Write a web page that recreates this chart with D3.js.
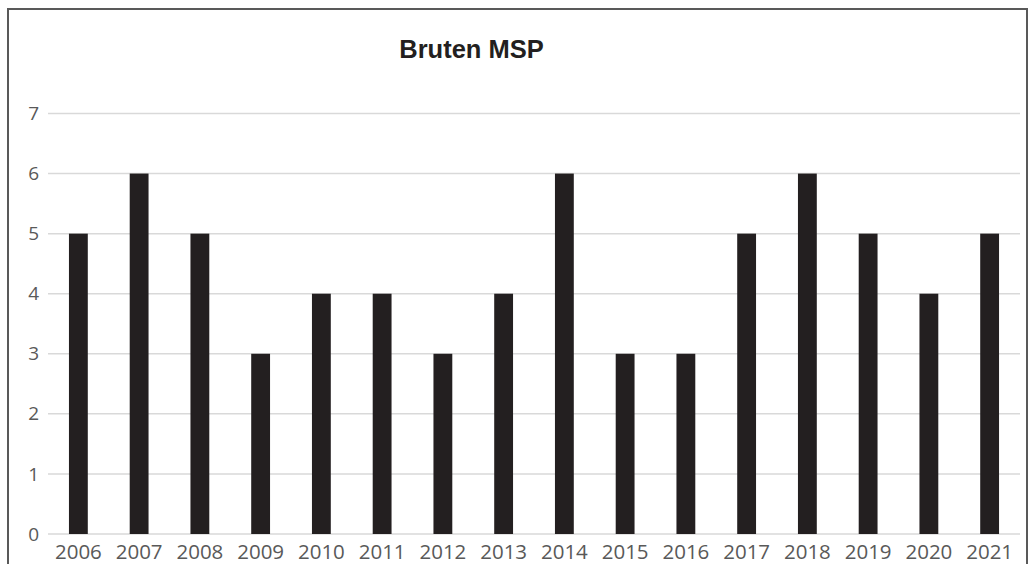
<!DOCTYPE html>
<html>
<head>
<meta charset="utf-8">
<script src="https://cdn.jsdelivr.net/npm/d3@7"></script>
<style>
html,body{margin:0;padding:0;background:#fff;}
svg{display:block;}
</style>
</head>
<body>
<svg id="chart" width="1029" height="564"></svg>
<script>
const title = "Bruten MSP";
const years = ["2006","2007","2008","2009","2010","2011","2012","2013","2014","2015","2016","2017","2018","2019","2020","2021"];
const values = [5,6,5,3,4,4,3,4,6,3,3,5,6,5,4,5];
const yTicks = [0,1,2,3,4,5,6,7];

const svg = d3.select("#chart");
const W = 1029, H = 564;

// outer border (bottom cut off)
svg.append("path")
  .attr("d", `M8,${H+5} L8,9 L1027,9 L1027,${H+5}`)
  .attr("fill","none").attr("stroke","#595959").attr("stroke-width",2);

const x = d3.scaleBand().domain(years).range([48, 1020]).paddingInner(0.69).paddingOuter(0.345);
const y = d3.scaleLinear().domain([0,7]).range([534, 113.5]);

// gridlines
svg.append("g").selectAll("line").data(yTicks).join("line")
  .attr("x1",48).attr("x2",1020)
  .attr("y1",d=>y(d)).attr("y2",d=>y(d))
  .attr("stroke","#d9d9d9").attr("stroke-width",1.5);

// y labels
const yAxis = d3.axisLeft(y).tickValues(yTicks).tickFormat(d3.format("d")).tickSize(0).tickPadding(0);
const gy = svg.append("g").attr("transform","translate(39,0)").call(yAxis);
gy.select(".domain").remove();
gy.selectAll("text").attr("font-family","'Open Sans', sans-serif").attr("font-size",19).attr("fill","#595959");

// bars
svg.append("g").selectAll("rect").data(values).join("rect")
  .attr("x",(d,i)=>x(years[i]))
  .attr("width",x.bandwidth())
  .attr("y",d=>y(d))
  .attr("height",d=>y(0)-y(d))
  .attr("fill","#231f20");

// x labels
const xAxis = d3.axisBottom(x).tickSize(0).tickPadding(0);
const gx = svg.append("g").attr("transform","translate(0,540)").call(xAxis);
gx.select(".domain").remove();
gx.selectAll("text").attr("font-family","'Open Sans', sans-serif").attr("font-size",20.5).attr("fill","#595959").attr("dy","0.95em");

// title
svg.append("text").attr("x",471.5).attr("y",58).attr("text-anchor","middle")
  .attr("font-family","'Liberation Sans', Arial, sans-serif").attr("font-weight","bold")
  .attr("font-size",25.5).attr("fill","#231f20").text(title);
</script>
</body>
</html>
